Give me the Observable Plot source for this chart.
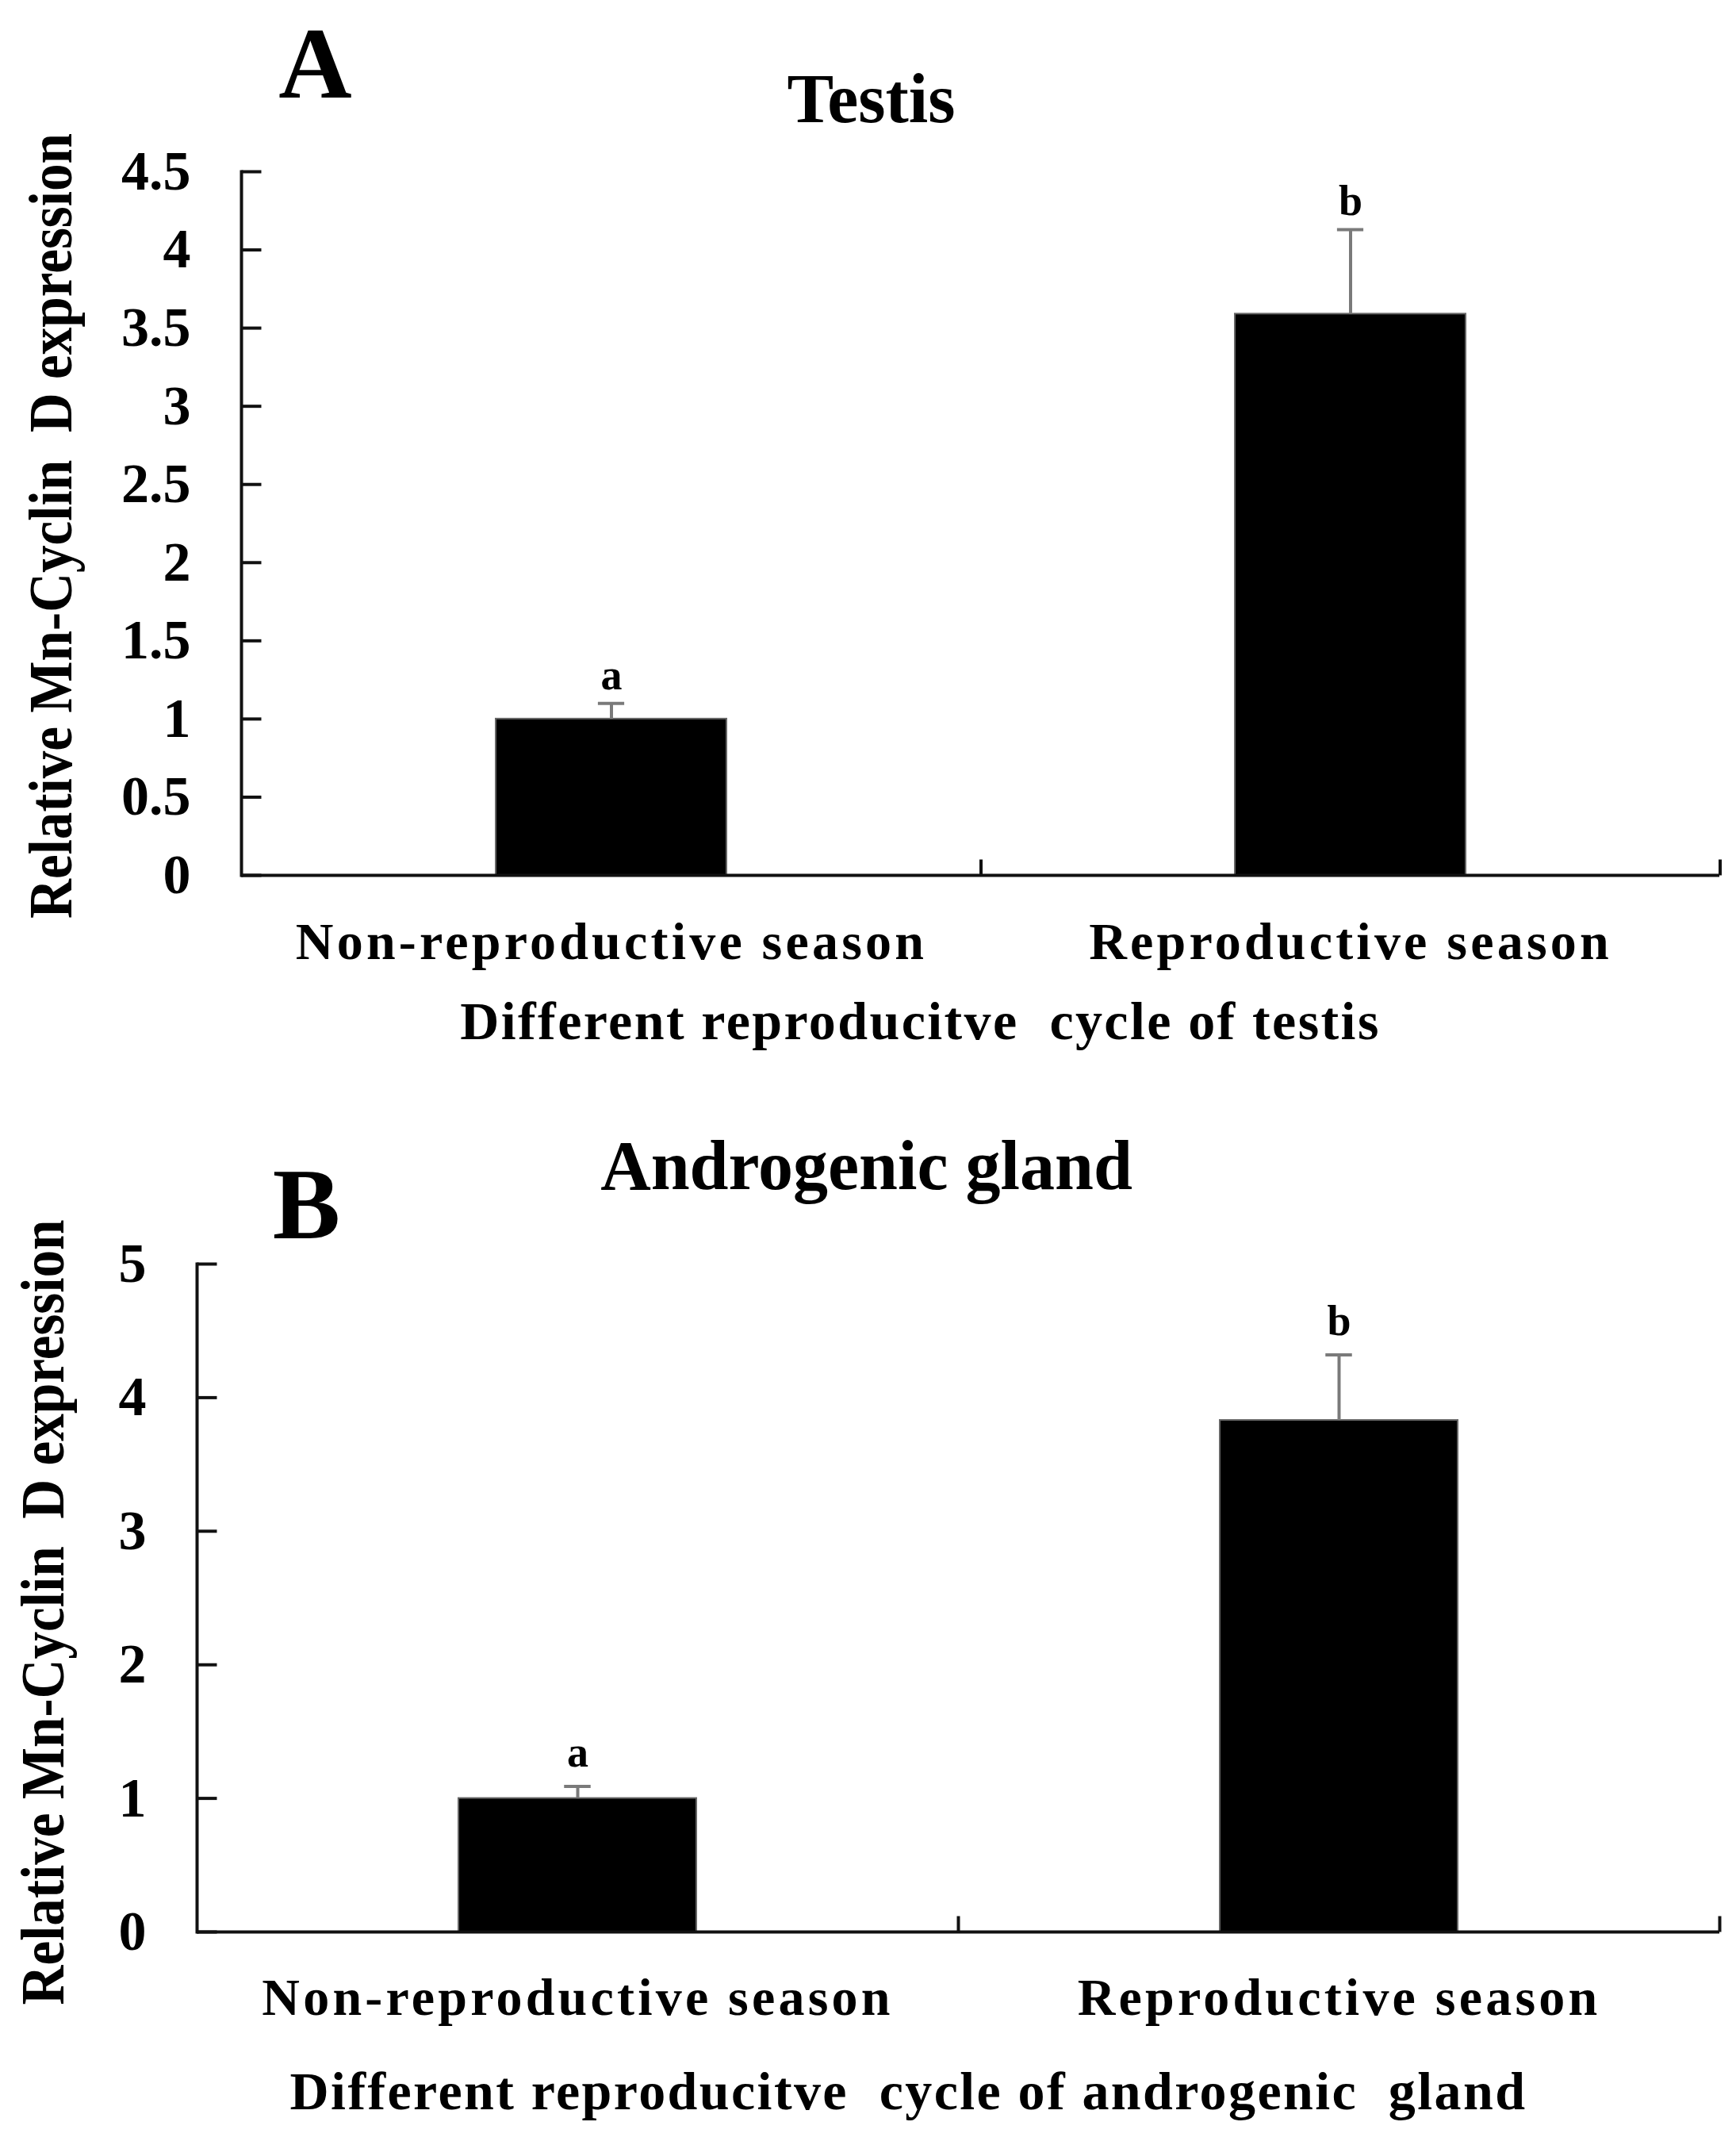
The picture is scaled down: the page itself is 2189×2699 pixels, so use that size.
<!DOCTYPE html>
<html>
<head>
<meta charset="utf-8">
<script src="https://cdn.jsdelivr.net/npm/d3@7"></script>
<script src="https://cdn.jsdelivr.net/npm/@observablehq/plot@0.6"></script>
<style>
  body { margin: 0; background: #fff; }
  svg { display: block; }
</style>
</head>
<body>
<div id="chart"></div>
<script>
// datos
const seasons = ["Non-reproductive season", "Reproductive season"];
const sigLetters = ["a", "b"];
const testisMean = [1.0, 3.59];
const testisErr = [0.10, 0.54];
const glandMean = [1.0, 3.83];
const glandErr = [0.09, 0.49];
const testisTicks = [0, 0.5, 1, 1.5, 2, 2.5, 3, 3.5, 4, 4.5];
const testisTickLabels = ["0", "0.5", "1", "1.5", "2", "2.5", "3", "3.5", "4", "4.5"];
const glandTicks = [0, 1, 2, 3, 4, 5];
const glandTickLabels = ["0", "1", "2", "3", "4", "5"];
const yLabel = "Relative Mn-Cyclin  D expression";

const W = 2189;
const MR = 21;
const PAD = 0.688;
const Y_LABEL_LEN = 990;
const serif = "'Liberation Serif', 'Times New Roman', serif";
// linea recta como forma del vector (ticks hacia adentro)
const tickShape = {draw(context, l) { context.moveTo(0, 0); context.lineTo(0, -l); }};

function panel(p) {
  const rows = seasons.map((s, i) => ({season: s, mean: p.means[i], top: p.means[i] + p.errs[i], letter: sigLetters[i]}));
  const ticks = p.ticks.map((t, i) => ({v: t, label: p.tickLabels[i]}));
  const step = (W - MR - p.ML) / 2;
  const capInset = (step * (1 - PAD) - 33) / 2;

  const chart = Plot.plot({
    width: W,
    height: p.H,
    marginLeft: p.ML,
    marginRight: MR,
    marginTop: p.MT,
    marginBottom: p.MB,
    style: {fontFamily: serif, fontWeight: "bold", background: "#fff", color: "#000", overflow: "visible"},
    x: {domain: seasons, paddingInner: PAD, paddingOuter: PAD / 2, axis: null},
    y: {domain: [0, p.yMax], axis: null},
    marks: [
      Plot.barY(rows, {x: "season", y: "mean", fill: "#000", stroke: "#666", strokeWidth: 2}),
      Plot.ruleX(rows, {x: "season", y1: "mean", y2: "top", stroke: "#7a7a7a", strokeWidth: 4}),
      Plot.tickY(rows, {x: "season", y: "top", stroke: "#7a7a7a", strokeWidth: 4, insetLeft: capInset, insetRight: capInset}),
      Plot.text(rows, {x: "season", y: "top", text: "letter", dy: -p.letterGap, lineAnchor: "bottom", fontSize: 54, fontWeight: "bold"}),
      // ejes
      Plot.frame({anchor: "left", stroke: "#111", strokeWidth: 4}),
      Plot.ruleY([0], {stroke: "#111", strokeWidth: 4}),
      Plot.vector(ticks, {y: "v", frameAnchor: "left", length: 25, rotate: 90, anchor: "start", shape: tickShape, stroke: "#111", strokeWidth: 4, strokeLinecap: "butt"}),
      Plot.vector(seasons, {x: d => d, frameAnchor: "bottom", length: 20, rotate: 0, anchor: "start", shape: tickShape, dx: step / 2, stroke: "#111", strokeWidth: 4, strokeLinecap: "butt"}),
      Plot.text(ticks, {y: "v", text: "label", frameAnchor: "left", textAnchor: "end", dx: -64, fontSize: 70, fontWeight: "bold"}),
      Plot.text(seasons, {x: d => d, text: d => d, frameAnchor: "bottom", lineAnchor: "bottom", dy: p.catDy, fontSize: 66, fontWeight: "bold"}),
      Plot.text([p.xTitle], {frameAnchor: "bottom", lineAnchor: "bottom", dx: p.xTitleDx, dy: p.xTitleDy, fontSize: 68, fontWeight: "bold"}),
      // titulo eje y: empieza abajo y sube
      Plot.text([yLabel], {frameAnchor: "left", rotate: -90, textAnchor: "start", dx: p.yLabDx, dy: p.yLabDy + Y_LABEL_LEN / 2, fontSize: 78, fontWeight: "bold"}),
      Plot.text([p.title], {frameAnchor: "top", lineAnchor: "bottom", dx: p.titleDx, dy: p.titleDy, fontSize: 88, fontWeight: "bold"}),
      Plot.text([p.tag], {frameAnchor: "top-left", lineAnchor: "bottom", textAnchor: "middle", dx: p.tagDx, dy: p.tagDy, fontSize: 128, fontWeight: "bold"})
    ]
  });

  d3.select(chart).selectAll("text").each(function() {
    const t = this.textContent;
    if (seasons.includes(t)) this.style.letterSpacing = "4.2px";
    else if (t === p.xTitle) this.style.letterSpacing = "2.4px";
    else if (t === yLabel) {
      this.setAttribute("textLength", Y_LABEL_LEN);
      this.setAttribute("lengthAdjust", "spacingAndGlyphs");
    }
  });
  return chart;
}

const chartA = panel({
  means: testisMean, errs: testisErr, yMax: 4.5, ticks: testisTicks, tickLabels: testisTickLabels,
  title: "Testis", tag: "A", xTitle: "Different reproducitve  cycle of testis",
  H: 1340, ML: 304, MT: 216, MB: 237, letterGap: 18,
  catDy: 105, xTitleDx: -76, xTitleDy: 206, yLabDx: -239, yLabDy: 3,
  titleDx: -138, titleDy: -63, tagDx: 93, tagDy: -94
});

const chartB = panel({
  means: glandMean, errs: glandErr, yMax: 5, ticks: glandTicks, tickLabels: glandTickLabels,
  title: "Androgenic gland", tag: "B", xTitle: "Different reproducitve  cycle of androgenic  gland",
  H: 1359, ML: 248, MT: 253, MB: 264, letterGap: 25,
  catDy: 104, xTitleDx: -63, xTitleDy: 223, yLabDx: -193, yLabDy: 18,
  titleDx: -116, titleDy: -95, tagDx: 138, tagDy: -33
});

d3.select('#chart').append(() => chartA);
d3.select('#chart').append(() => chartB);
</script>
</body>
</html>
